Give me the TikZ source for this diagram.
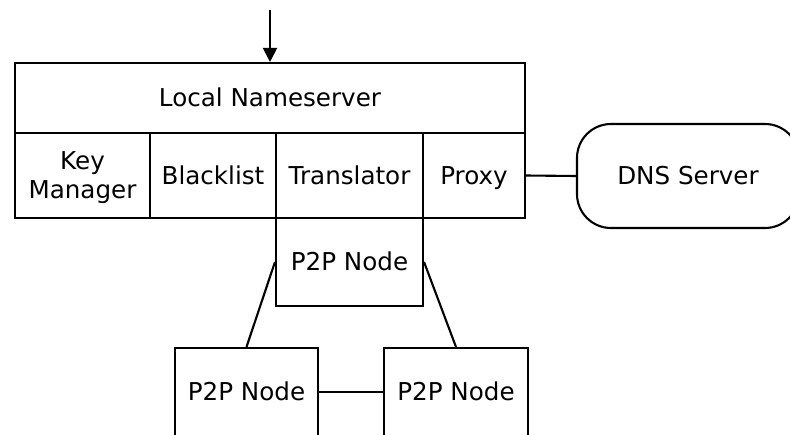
\documentclass[tikz,border=0pt]{standalone}
\usepackage{fontspec}
\setmainfont{DejaVu Sans}
\usetikzlibrary{arrows.meta}
\begin{document}
\begin{tikzpicture}[x=1pt,y=-1pt,
  every node/.style={font=\fontsize{24.6}{29}\selectfont},
  box/.style={draw,line width=2.1pt,inner sep=0pt,align=center,minimum height=#1},
  box/.default=85pt,
  oneline/.style={text height=18pt,text depth=1pt},
  link/.style={line width=2.1pt},
  feed/.style={line width=2.1pt,-{Triangle[length=14pt,width=14pt]}}]
\useasboundingbox (0,0) rectangle (790,434);
\begin{scope}
\clip (0,0) rectangle (790,434);
% nameserver frame and its components
\node[box=70pt,oneline,minimum width=510pt] (ln) at (270,98) {Local Nameserver};
\node[box,text depth=0pt,minimum width=135pt] (km) at (82.5,175.5) {Key\\Manager};
\node[box,oneline,minimum width=126pt] (bl) at (213,175.5) {Blacklist};
\node[box,oneline,minimum width=147pt] (tr) at (349.5,175.5) {Translator};
\node[box,oneline,minimum width=102pt] (px) at (474,175.5) {Proxy};
% upstream resolver
\node[draw,line width=2.1pt,oneline,rounded corners=34pt,minimum width=222pt,minimum height=104pt] (dns) at (688,176) {DNS Server};
% overlay network
\node[box=88pt,oneline,minimum width=147pt] (pm) at (349.5,262) {P2P Node};
\node[box=88pt,oneline,minimum width=143pt] (pl) at (246.5,392) {P2P Node};
\node[box=88pt,oneline,minimum width=144pt] (pr) at (456,392) {P2P Node};
% connectors
\coordinate (query) at (270,10);
\draw[feed] (query) -- (ln.north);
\draw[link] (px.east) -- (dns.west);
\draw[link] (pm.west) -- (pl.north);
\draw[link] (pm.east) -- (pr.north);
\draw[link] (pl.east) -- (pr.west);
\end{scope}
\end{tikzpicture}
\end{document}
